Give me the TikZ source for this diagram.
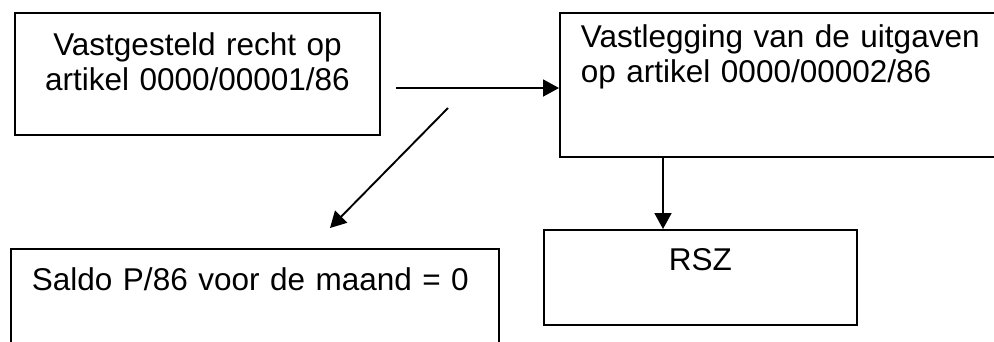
\documentclass[tikz,border=0pt]{standalone}
\usepackage{fontspec}
\setmainfont{Liberation Sans}
\usetikzlibrary{arrows.meta}

\begin{document}
\begin{tikzpicture}[x=1pt,y=-1pt]

    \tikzset{
      box/.style={
        draw,
        line width=1.9pt,
        anchor=north west,
        inner ysep=0pt,
        font=\fontsize{31.5}{35}\selectfont,
      },
      arrow/.style={
        line width=1.9pt,
        -{Triangle[length=16pt,width=17pt]},
      },
    }
    \useasboundingbox (0,0) rectangle (994,341);
    \clip (0,0) rectangle (994,341);

	\node[box,inner xsep=0pt,text width=365pt,text height=43pt,text depth=79pt,align=center] (recht) at (14,12) {Vastgesteld recht op\\artikel 0000/00001/86};
	\node[box,inner xsep=21pt,text width=403pt,text height=35pt,text depth=109pt,align=left] (vastlegging) at (559,12) {Vastlegging van de uitgaven\\op artikel 0000/00002/86};
	\node[box,inner xsep=0pt,text width=313pt,text height=41pt,text depth=54pt,align=center] (rsz) at (543,229) {RSZ};
	\node[box,inner xsep=21pt,text width=446pt,text height=42pt,text depth=80pt,align=left] (saldo) at (10,248) {Saldo P/86 voor de maand = 0};

	\coordinate (hstart) at (396,88);
	\coordinate (dstart) at (448,108);
	\coordinate (dend) at (330,228);
	\coordinate (vx) at (663,0);

	\draw[arrow] (hstart) -- (hstart -| vastlegging.west);
	\draw[arrow] (dstart) -- (dend);
	\draw[arrow] (vx |- vastlegging.south) -- (vx |- rsz.north);

\end{tikzpicture}
\end{document}
